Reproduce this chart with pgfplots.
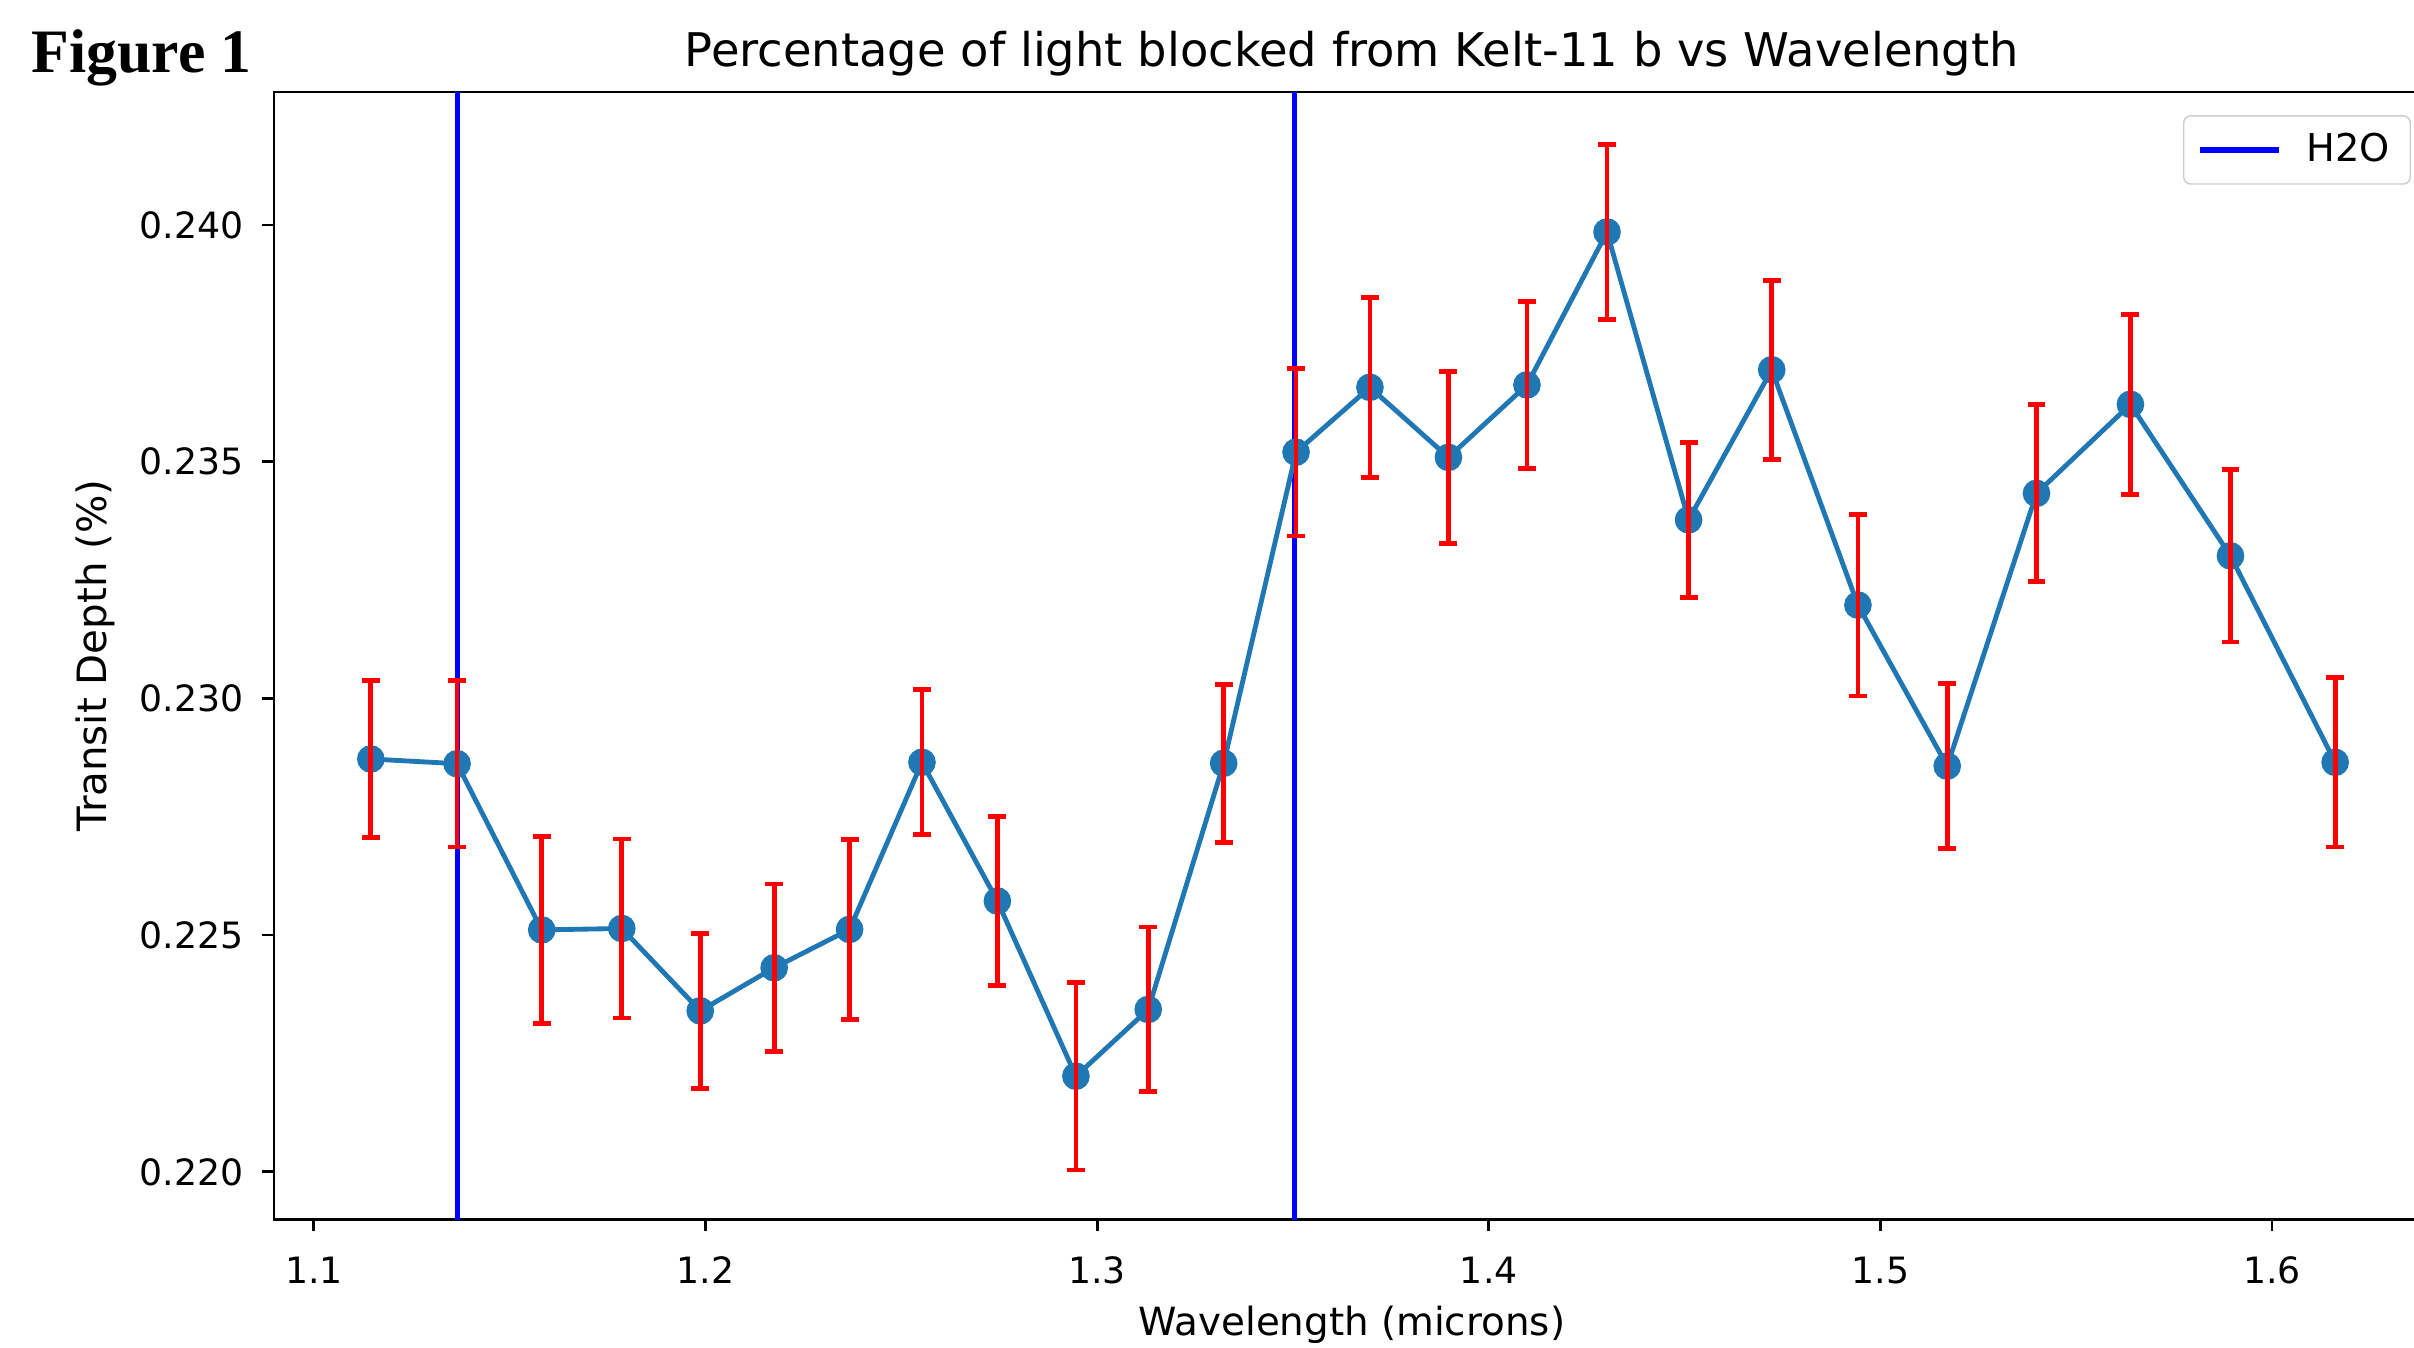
\documentclass[border=0pt]{standalone}
\usepackage{fontspec}
\setmainfont{DejaVu Sans}
\newfontfamily\figfont{Liberation Serif}
\usepackage{pgfplots}
\pgfplotsset{compat=1.18}
\usepackage{pgfplotstable}
\definecolor{mplblue}{HTML}{1F77B4}

\pgfplotstableread{
x y e
1.11454 0.22872 0.00166
1.13656 0.22862 0.00176
1.15818 0.22511 0.00198
1.17862 0.22514 0.00189
1.19866 0.22340 0.00164
1.21753 0.22431 0.00177
1.23679 0.22512 0.00190
1.25527 0.22865 0.00153
1.27453 0.22572 0.00179
1.29458 0.22202 0.00198
1.31305 0.22343 0.00174
1.33231 0.22863 0.00167
1.35079 0.23520 0.00177
1.36965 0.23657 0.00190
1.38970 0.23509 0.00182
1.40975 0.23662 0.00176
1.43019 0.23985 0.00184
1.45102 0.23377 0.00164
1.47225 0.23694 0.00189
1.49426 0.23197 0.00192
1.51706 0.22857 0.00174
1.53986 0.23433 0.00187
1.56384 0.23621 0.00190
1.58939 0.23301 0.00182
1.61612 0.22865 0.00179
}\datatable

\begin{document}
\begin{tikzpicture}
\begin{axis}[
  at={(0,0)}, anchor=south west,
  scale only axis,
  set layers,
  clip mode=individual,
  width=624.9pt, height=326.7pt,
  xmin=1.0898, xmax=1.6403,
  ymin=0.218999, ymax=0.242805,
  axis line style={line width=0.8pt},
  xtick={1.1,1.2,1.3,1.4,1.5,1.6},
  ytick={0.220,0.225,0.230,0.235,0.240},
  scaled y ticks=false, scaled x ticks=false,
  tick align=outside,
  xtick pos=bottom, ytick pos=left,
  major tick length=3.5pt,
  tick style={line width=0.8pt, black},
  /pgf/number format/assume math mode=true,
  xticklabel style={/pgf/number format/.cd, fixed, fixed zerofill, precision=1, /tikz/.cd, font=\fontsize{10.5}{12}\selectfont, anchor=base, inner sep=0pt, yshift=-15pt},
  yticklabel style={/pgf/number format/.cd, fixed, fixed zerofill, precision=3, /tikz/.cd, font=\fontsize{10.5}{12}\selectfont, anchor=east, inner sep=0pt, xshift=-5.2pt},
  title={Percentage of light blocked from Kelt-11 b vs Wavelength},
  every axis title/.style={at={(0.5,1)}, anchor=base, inner sep=0pt, yshift=7.3pt, font=\fontsize{13.45}{15}\selectfont},
  xlabel={Wavelength (microns)},
  every axis x label/.style={at={(0.5,0)}, anchor=base, inner sep=0pt, yshift=-33.6pt, font=\fontsize{11.25}{13}\selectfont},
  ylabel={Transit Depth (\%)},
  every axis y label/.style={at={(0,0.5)}, xshift=-51.9pt, rotate=90, anchor=center, inner sep=0pt, font=\fontsize{11.7}{13}\selectfont},
  legend style={at={(1,1)}, anchor=north east, xshift=-5.5pt, yshift=-6.7pt,
    draw=black!20, rounded corners=2pt, fill=white, fill opacity=0.8, text opacity=1,
    font=\fontsize{11.1}{13}\selectfont, inner xsep=4pt, inner ysep=3pt},
  legend cell align=left,
  legend image code/.code={\draw[#1] (0pt,0pt) -- (23pt,0pt); \path (0pt,0pt) (28pt,0pt);},
]
\addplot[blue, line width=1.5pt] coordinates {(1.1366,0.2) (1.1366,0.25)};
\addlegendentry{H2O}
\addplot[blue, line width=1.5pt, forget plot] coordinates {(1.3504,0.2) (1.3504,0.25)};
\addplot[mplblue, line width=1.4pt, mark=*, mark size=3.3pt, mark options={solid, fill=mplblue, draw=mplblue}, forget plot] table[x=x, y=y] {\datatable};
\addplot[red, draw=none, mark=none, forget plot, on layer=axis foreground,
  error bars/.cd, y dir=both, y explicit, error mark=-,
  error bar style={draw=red, line width=1.4pt},
  error mark options={draw=red, line width=1.4pt, mark size=2.6pt, rotate=90}]
  table[x=x, y=y, y error=e] {\datatable};
\end{axis}
\node[anchor=base west, inner sep=0pt, font=\figfont\bfseries\fontsize{17.9}{20}\selectfont] at (-70.4pt,332.5pt) {Figure 1};
\pgfresetboundingbox
\path[use as bounding box] (-79.4pt,-37.1pt) rectangle (620.3pt,353.4pt);
\end{tikzpicture}
\end{document}
